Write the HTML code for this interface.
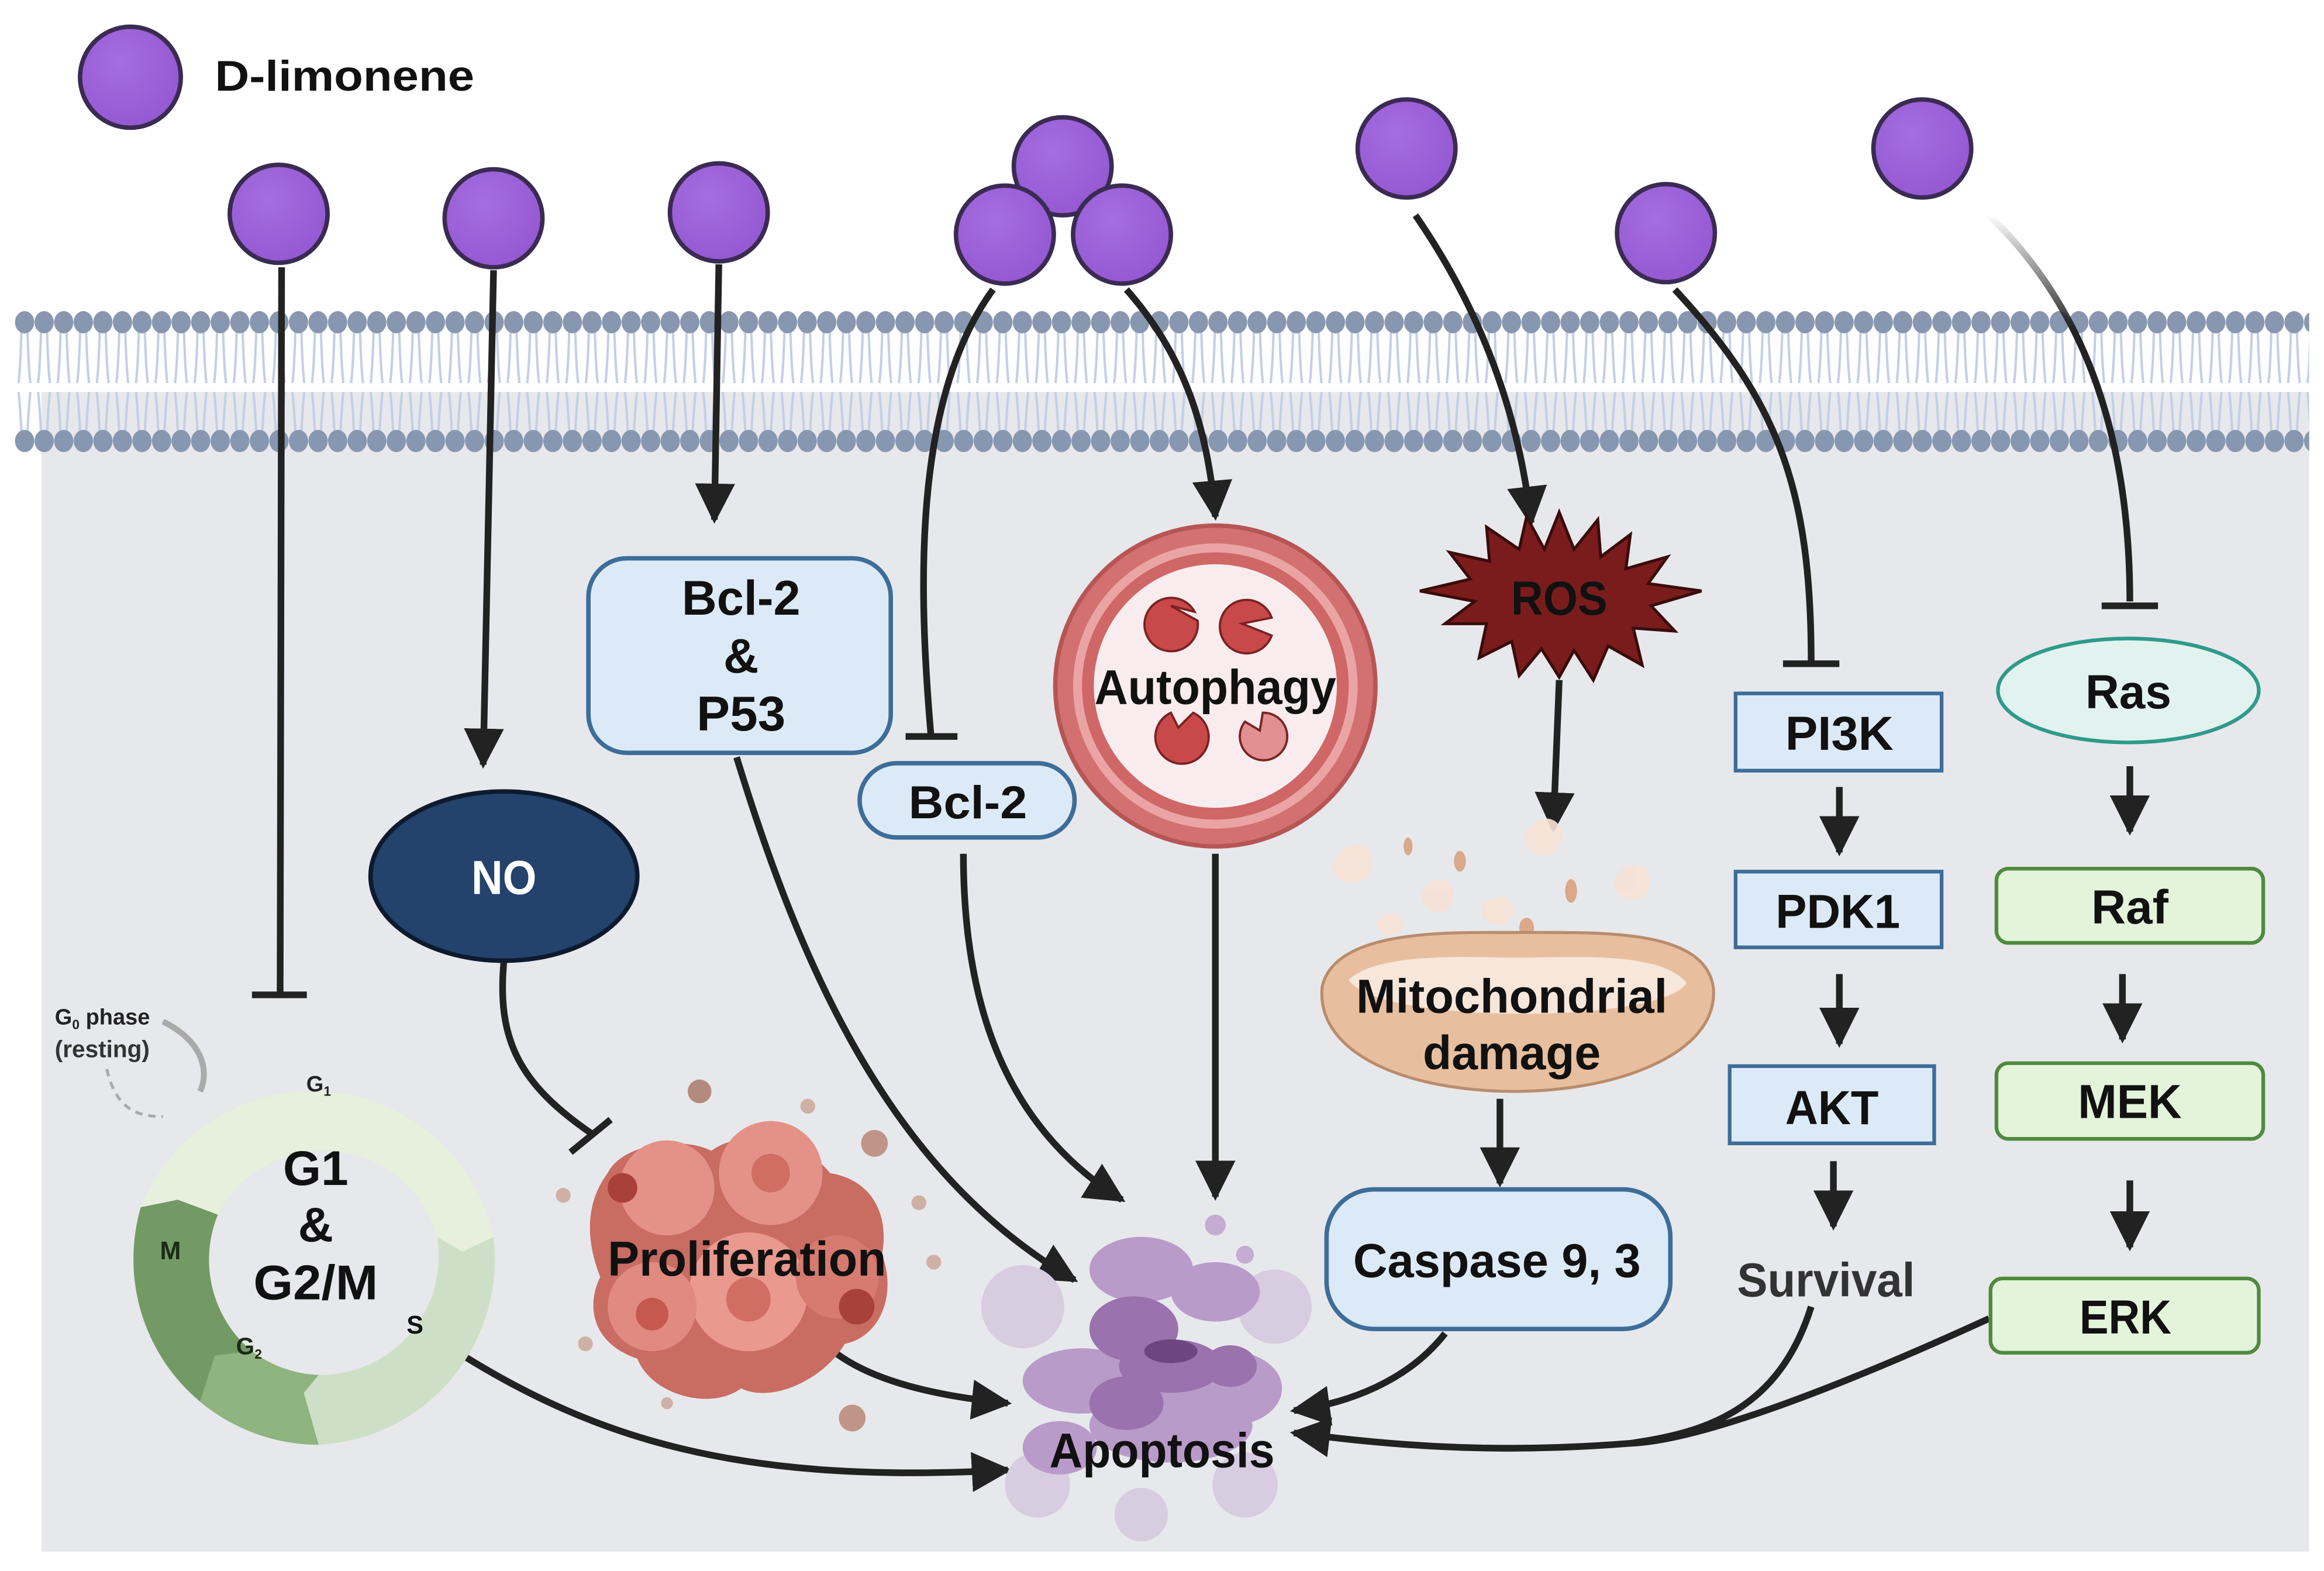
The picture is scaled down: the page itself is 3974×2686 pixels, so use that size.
<!DOCTYPE html>
<html><head><meta charset="utf-8"><style>
html,body{margin:0;padding:0;background:#fff}
svg{display:block}
text{font-family:"Liberation Sans",sans-serif;font-weight:bold}
</style></head><body>
<svg width="3974" height="2686" viewBox="0 0 1568 1058" preserveAspectRatio="none" xmlns="http://www.w3.org/2000/svg">
<defs>
<marker id="ah" viewBox="0 0 10 10" refX="9" refY="5" markerWidth="6" markerHeight="6" orient="auto" markerUnits="strokeWidth"><path d="M0,0 L10,5 L0,10 z" fill="#222"/></marker>
<pattern id="mem" x="10" y="0" width="13.2" height="1058" patternUnits="userSpaceOnUse">
<path d="M4.5,222 C4,240 3.5,250 2.5,258 M8.5,222 C9,240 9.5,250 10.5,258 M2.5,264 C3.5,272 4,282 4.5,292 M10.5,264 C9.5,272 9,282 8.5,292" stroke="#c3cfe6" stroke-width="1.6" fill="none"/>
<ellipse cx="6.6" cy="217" rx="6.5" ry="7.5" fill="#8797b0"/>
<ellipse cx="6.6" cy="297" rx="6.5" ry="7.5" fill="#8797b0"/>
</pattern>
<linearGradient id="fade" x1="0" y1="0" x2="0" y2="1"><stop offset="0" stop-color="#222" stop-opacity="0"/><stop offset="0.3" stop-color="#222"/></linearGradient>
<radialGradient id="pur" cx="0.4" cy="0.35" r="0.7"><stop offset="0" stop-color="#a46ee0"/><stop offset="1" stop-color="#9457d2"/></radialGradient>
</defs>
<rect x="28" y="264" width="1530" height="781" fill="#e7e8eb"/>
<rect x="10" y="205" width="1548" height="105" fill="url(#mem)"/>

<g fill="url(#pur)" stroke="#3b2b52" stroke-width="3">
<circle cx="88" cy="52" r="34"/>
<circle cx="188" cy="144" r="33"/><circle cx="333" cy="147" r="33"/><circle cx="485" cy="143" r="33"/>
<circle cx="717" cy="112" r="33"/><circle cx="678" cy="158" r="33"/><circle cx="757" cy="158" r="33"/>
<circle cx="949" cy="100" r="33"/><circle cx="1124" cy="157" r="33"/><circle cx="1297" cy="100" r="33"/>
</g>
<text x="145" y="61" font-size="29" fill="#111" textLength="175" lengthAdjust="spacingAndGlyphs">D-limonene</text>

<g stroke="#222" stroke-width="4.5" fill="none">
<path d="M190,180 L189,668"/><path d="M170,670 H207"/>
<path d="M333,182 L326,515" marker-end="url(#ah)"/>
<path d="M485,178 L482,350" marker-end="url(#ah)"/>
<path d="M670,195 C615,270 620,400 628,494"/><path d="M611,496 H646"/>
<path d="M760,195 C800,240 815,290 820,348" marker-end="url(#ah)"/>
<path d="M955,145 C1000,210 1025,280 1033,352" marker-end="url(#ah)"/>
<path d="M1130,195 C1200,270 1222,330 1222,446"/><path d="M1203,447 H1241"/>
<path d="M1342,145 C1410,210 1437,300 1437,405" stroke="url(#fade)"/><path d="M1418,408 H1456"/>
<path d="M1052,458 L1048,558" marker-end="url(#ah)"/>
<path d="M1012,740 L1012,797" marker-end="url(#ah)"/>
<path d="M1241,530 L1241,574" marker-end="url(#ah)"/>
<path d="M1241,656 L1241,703" marker-end="url(#ah)"/>
<path d="M1237,782 L1237,826" marker-end="url(#ah)"/>
<path d="M1437,516 L1437,560" marker-end="url(#ah)"/>
<path d="M1432,656 L1432,700" marker-end="url(#ah)"/>
<path d="M1437,795 L1437,840" marker-end="url(#ah)"/>
<path d="M340,647 C335,700 350,730 400,764"/><path d="M385,776 L412,754"/>
<path d="M497,510 C540,650 600,790 725,862" marker-end="url(#ah)"/>
<path d="M650,575 C650,680 680,760 757,808" marker-end="url(#ah)"/>
<path d="M820,575 L820,806" marker-end="url(#ah)"/>
<path d="M565,912 C590,930 630,940 680,945" marker-end="url(#ah)"/>
<path d="M300,905 C400,970 500,1000 680,990" marker-end="url(#ah)"/>
<path d="M975,898 C950,930 910,945 873,950" marker-end="url(#ah)"/>
<path d="M1222,880 C1200,950 1150,965 1100,972 C1000,980 930,972 873,965" marker-end="url(#ah)"/>
<path d="M1342,888 C1250,930 1150,970 1100,972"/>
</g>

<g transform="translate(215,848)">
<path d="M-120,-35 A125,125 0 0 1 118,-15 L97,-5 L80,-15 A80,80 0 0 0 -68,-30 Z" fill="#e6f0dc"/>
<path d="M118,-15 A125,125 0 0 1 0,125 L-10,90 L0,78 A80,80 0 0 0 80,-15 L97,-5 Z" fill="#cde0c7"/>
<path d="M0,125 A125,125 0 0 1 -80,96 L-70,65 L-45,62 A80,80 0 0 0 0,78 L-10,90 Z" fill="#8fb47f"/>
<path d="M-80,96 A125,125 0 0 1 -120,-35 L-95,-40 L-68,-30 A80,80 0 0 0 -45,62 L-70,65 Z" fill="#739a65"/>
</g>
<text x="215" y="735" font-size="15" text-anchor="middle" fill="#222">G<tspan font-size="9" dy="3">1</tspan></text>
<text x="115" y="848" font-size="17" text-anchor="middle" fill="#1a2a15">M</text>
<text x="168" y="912" font-size="16" text-anchor="middle" fill="#1a2a15">G<tspan font-size="9" dy="3">2</tspan></text>
<text x="280" y="898" font-size="17" text-anchor="middle" fill="#111">S</text>
<text x="213" y="798" font-size="33" text-anchor="middle" fill="#111">G1</text>
<text x="213" y="836" font-size="33" text-anchor="middle" fill="#111">&amp;</text>
<text x="213" y="875" font-size="33" text-anchor="middle" fill="#111" textLength="84" lengthAdjust="spacingAndGlyphs">G2/M</text>
<text x="37" y="690" font-size="15" fill="#222">G<tspan font-size="9" dy="3">0</tspan><tspan dy="-3"> phase</tspan></text>
<text x="37" y="712" font-size="16" fill="#333" font-weight="normal">(resting)</text>
<path d="M110,688 C135,700 142,720 135,735" stroke="#aaa" stroke-width="4" fill="none"/>
<path d="M72,720 C78,745 90,752 110,752" stroke="#aaa" stroke-width="2" stroke-dasharray="5,4" fill="none"/>

<rect x="397" y="376" width="204" height="131" rx="26" fill="#dceaf7" stroke="#3d6d99" stroke-width="3"/>
<text x="500" y="414" font-size="33" text-anchor="middle" fill="#111" textLength="80" lengthAdjust="spacingAndGlyphs">Bcl-2</text>
<text x="500" y="453" font-size="33" text-anchor="middle" fill="#111">&amp;</text>
<text x="500" y="492" font-size="33" text-anchor="middle" fill="#111" textLength="60" lengthAdjust="spacingAndGlyphs">P53</text>
<rect x="580" y="514" width="145" height="50" rx="25" fill="#dceaf7" stroke="#3d6d99" stroke-width="3"/>
<text x="653" y="551" font-size="31" text-anchor="middle" fill="#111" textLength="80" lengthAdjust="spacingAndGlyphs">Bcl-2</text>

<ellipse cx="340" cy="590" rx="90" ry="57" fill="#23426c" stroke="#0e1a2e" stroke-width="3"/>
<text x="340" y="602" font-size="32" text-anchor="middle" fill="#fff" textLength="44" lengthAdjust="spacingAndGlyphs">NO</text>

<circle cx="820" cy="462" r="108" fill="#d37070" stroke="#b75555" stroke-width="3"/>
<circle cx="820" cy="462" r="96" fill="#eaa4a4"/>
<circle cx="820" cy="462" r="90" fill="#cf6767"/>
<circle cx="820" cy="462" r="82" fill="#f8ecee"/>
<g fill="#c9484a" stroke="#7a2222" stroke-width="1.5">
<path d="M790,408 L808,418 A18,18 0 1 1 806,412 Z"/>
<path d="M838,420 L858,416 A18,18 0 1 0 858,428 Z"/>
<path d="M795,490 L805,480 A18,18 0 1 1 790,480 Z"/>
<path d="M850,492 L852,480 A16,16 0 1 1 840,486 Z" fill="#e09090"/>
</g>
<text x="820" y="474" font-size="33" text-anchor="middle" fill="#111" textLength="163" lengthAdjust="spacingAndGlyphs">Autophagy</text>

<polygon fill="#7a1c1c" stroke="#3a0c0c" stroke-width="2" points="1052,345 1062,370 1078,350 1080,375 1100,360 1097,383 1125,375 1112,393 1148,398 1114,408 1130,425 1102,423 1108,448 1085,435 1075,458 1062,438 1052,456 1040,437 1025,455 1020,432 998,443 1003,420 975,420 995,405 958,398 992,390 978,372 1005,378 1003,355 1025,370 1030,348 1042,370"/>
<text x="1052" y="414" font-size="32" text-anchor="middle" fill="#111" textLength="65" lengthAdjust="spacingAndGlyphs">ROS</text>

<g fill="#f6e2d6" opacity="0.9">
<path d="M900,580 c10,-20 30,-10 25,5 c-5,15 -30,10 -25,-5z"/><path d="M960,600 c10,-15 25,-5 20,8 c-5,12 -25,5 -20,-8z"/>
<path d="M1030,560 c12,-18 30,-5 22,10 c-8,12 -28,4 -22,-10z"/><path d="M1090,590 c10,-15 28,-5 22,10 c-6,12 -28,5 -22,-10z"/>
<path d="M1000,610 c10,-12 25,-4 20,8 c-5,10 -24,4 -20,-8z"/><path d="M930,620 c8,-10 20,-3 16,6 c-4,8 -20,3 -16,-6z"/>
</g>
<g fill="#d9a98a"><ellipse cx="985" cy="580" rx="4" ry="7"/><ellipse cx="1060" cy="600" rx="4" ry="8"/><ellipse cx="1030" cy="625" rx="5" ry="7"/><ellipse cx="950" cy="570" rx="3" ry="6"/></g>
<path d="M892,665 C900,625 980,628 1022,628 C1080,628 1150,625 1156,665 C1160,710 1090,735 1022,735 C950,735 888,710 892,665 Z" fill="#e8bf9e" stroke="#b98c6c" stroke-width="2"/>
<path d="M910,660 C930,640 1000,645 1022,645 C1060,645 1120,640 1138,662 C1120,690 930,690 910,660Z" fill="#f7e6da"/>
<text x="1020" y="682" font-size="32" text-anchor="middle" fill="#111" textLength="210" lengthAdjust="spacingAndGlyphs">Mitochondrial</text>
<text x="1020" y="720" font-size="32" text-anchor="middle" fill="#111" textLength="120" lengthAdjust="spacingAndGlyphs">damage</text>

<rect x="895" y="801" width="232" height="94" rx="32" fill="#dceaf7" stroke="#3d6d99" stroke-width="3"/>
<text x="1010" y="860" font-size="32" text-anchor="middle" fill="#111" textLength="194" lengthAdjust="spacingAndGlyphs">Caspase 9, 3</text>

<g fill="#dceaf7" stroke="#3d6d99" stroke-width="2.5">
<rect x="1171" y="467" width="139" height="52"/><rect x="1171" y="587" width="139" height="51"/><rect x="1167" y="718" width="138" height="52"/>
</g>
<text x="1241" y="505" font-size="32" text-anchor="middle" fill="#111" textLength="73" lengthAdjust="spacingAndGlyphs">PI3K</text>
<text x="1240" y="625" font-size="32" text-anchor="middle" fill="#111" textLength="84" lengthAdjust="spacingAndGlyphs">PDK1</text>
<text x="1236" y="757" font-size="32" text-anchor="middle" fill="#111" textLength="63" lengthAdjust="spacingAndGlyphs">AKT</text>
<text x="1232" y="873" font-size="32" text-anchor="middle" fill="#333" textLength="120" lengthAdjust="spacingAndGlyphs">Survival</text>

<ellipse cx="1436" cy="465" rx="88" ry="35" fill="#e2f3ef" stroke="#2f9a8a" stroke-width="2.5"/>
<text x="1436" y="477" font-size="32" text-anchor="middle" fill="#111" textLength="58" lengthAdjust="spacingAndGlyphs">Ras</text>
<g fill="#e3f4da" stroke="#4f8a3e" stroke-width="2.5">
<rect x="1347" y="585" width="180" height="50" rx="8"/><rect x="1347" y="716" width="180" height="51" rx="8"/><rect x="1343" y="861" width="181" height="50" rx="8"/>
</g>
<text x="1437" y="622" font-size="32" text-anchor="middle" fill="#111" textLength="52" lengthAdjust="spacingAndGlyphs">Raf</text>
<text x="1437" y="753" font-size="32" text-anchor="middle" fill="#111" textLength="70" lengthAdjust="spacingAndGlyphs">MEK</text>
<text x="1434" y="898" font-size="32" text-anchor="middle" fill="#111" textLength="62" lengthAdjust="spacingAndGlyphs">ERK</text>

<g>
<circle cx="472" cy="735" r="8" fill="#b58a7e"/><circle cx="545" cy="745" r="5" fill="#cfb0a6"/><circle cx="590" cy="770" r="9" fill="#c09488"/>
<circle cx="380" cy="805" r="5" fill="#cfb0a6"/><circle cx="620" cy="810" r="5" fill="#cfb0a6"/><circle cx="630" cy="850" r="5" fill="#cfb0a6"/>
<circle cx="395" cy="905" r="5" fill="#cfb0a6"/><circle cx="575" cy="955" r="9" fill="#c09488"/><circle cx="450" cy="945" r="4" fill="#cfb0a6"/>
<path d="M410,790 C420,770 460,765 480,775 C500,760 540,765 560,790 C590,795 600,820 595,845 C605,870 595,900 570,905 C555,930 520,945 500,935 C480,950 440,940 430,915 C400,905 395,880 405,860 C395,835 395,810 410,790 Z" fill="#c96c62"/>
<circle cx="450" cy="800" r="32" fill="#e49287"/><circle cx="520" cy="790" r="35" fill="#e49287"/><circle cx="505" cy="870" r="40" fill="#e9998d"/>
<circle cx="440" cy="880" r="30" fill="#e08a80"/><circle cx="565" cy="860" r="28" fill="#d77a70"/>
<circle cx="520" cy="790" r="13" fill="#d06e64"/><circle cx="505" cy="875" r="15" fill="#d06e64"/><circle cx="440" cy="885" r="11" fill="#c5584f"/><circle cx="420" cy="800" r="10" fill="#a8413a"/><circle cx="578" cy="880" r="12" fill="#a8413a"/>
</g>
<text x="504" y="859" font-size="33" text-anchor="middle" fill="#111" textLength="188" lengthAdjust="spacingAndGlyphs">Proliferation</text>

<g>
<g fill="#d8cce0"><circle cx="690" cy="880" r="28"/><circle cx="860" cy="880" r="25"/><circle cx="700" cy="1000" r="22"/><circle cx="840" cy="1000" r="22"/><circle cx="770" cy="1020" r="18"/></g>
<g fill="#b99bc9"><ellipse cx="770" cy="855" rx="35" ry="22"/><ellipse cx="820" cy="870" rx="30" ry="20"/><ellipse cx="730" cy="930" rx="40" ry="22"/><ellipse cx="830" cy="935" rx="35" ry="25"/><ellipse cx="790" cy="960" rx="55" ry="25"/><ellipse cx="715" cy="975" rx="25" ry="18"/></g>
<g fill="#9a72ad"><ellipse cx="765" cy="895" rx="30" ry="22"/><ellipse cx="790" cy="920" rx="35" ry="18"/><ellipse cx="760" cy="945" rx="25" ry="18"/><ellipse cx="830" cy="920" rx="18" ry="14"/></g>
<ellipse cx="790" cy="910" rx="18" ry="8" fill="#6d4680"/>
<circle cx="820" cy="825" r="7" fill="#c4acd2"/><circle cx="840" cy="845" r="6" fill="#c4acd2"/>
</g>
<text x="784" y="988" font-size="33" text-anchor="middle" fill="#111" textLength="152" lengthAdjust="spacingAndGlyphs">Apoptosis</text>
</svg>
</body></html>
